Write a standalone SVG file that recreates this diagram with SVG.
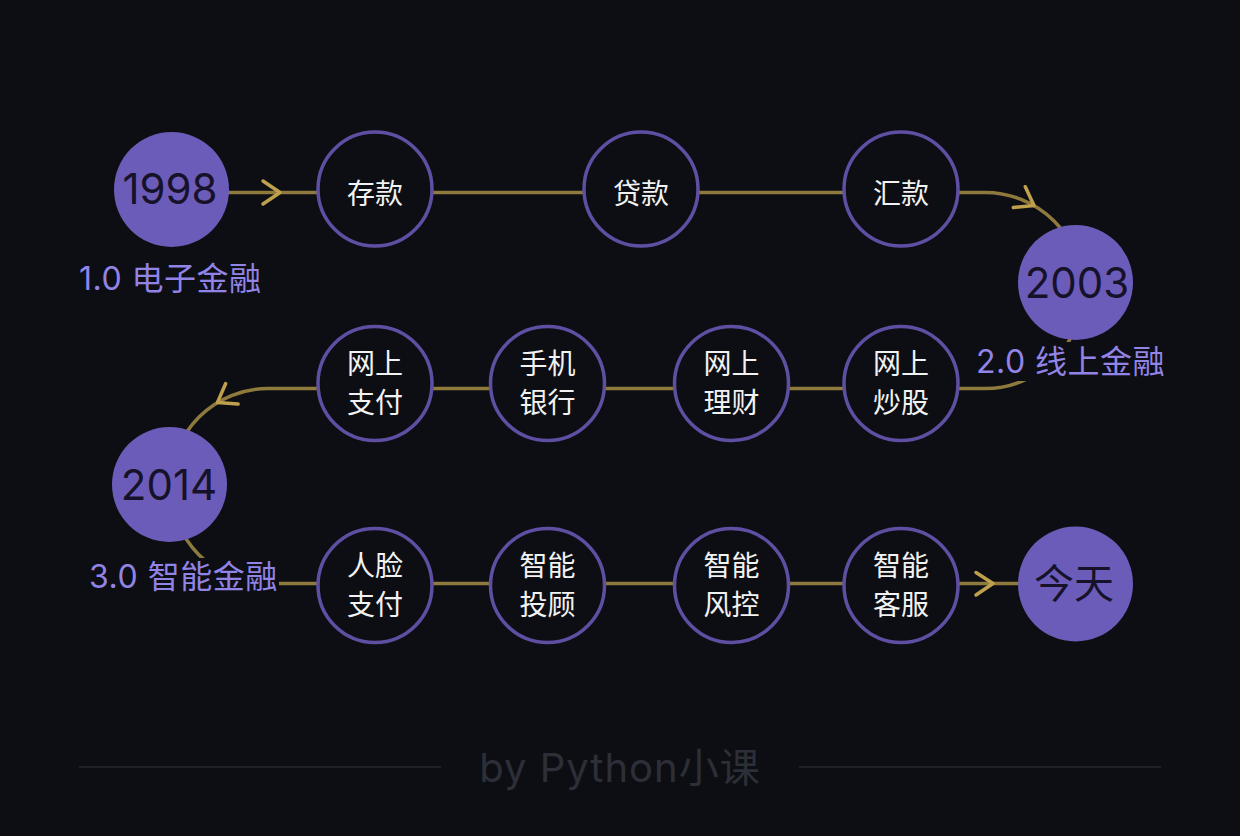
<svg xmlns="http://www.w3.org/2000/svg" width="1240" height="836" viewBox="0 0 1240 836">
<defs>
<style>
.bg{fill:#0c0e13}
.edge{fill:none;stroke:#8e7a3c;stroke-width:3.5}
.chev{fill:none;stroke:#bfa04c;stroke-width:3.5;stroke-linecap:round;stroke-linejoin:round}
.node circle{fill:#0c0e13;stroke:#5e4fa3;stroke-width:3.5}
.node text{fill:#f2f2f2;font-family:"Noto Sans CJK SC","Noto Sans",sans-serif;font-size:28px;text-anchor:middle;dominant-baseline:central}
.year circle{fill:#6c5cb9}
.year text{fill:#15122a;font-family:Inter,"Noto Sans CJK SC",sans-serif;font-size:42px;text-anchor:middle}
.label rect{fill:#0c0e13}
.label text{fill:#9283e6;font-family:Inter,"Noto Sans CJK SC",sans-serif;font-size:32px;letter-spacing:0.5px}
.foot line{stroke:#1e2128;stroke-width:2}
.foot text{fill:#2c2f37;font-family:Inter,"Noto Sans CJK SC",sans-serif;font-size:40px;letter-spacing:1px;text-anchor:middle}
</style>
</defs>
<rect class="bg" x="0" y="0" width="1240" height="836"/>
<g id="connectors">
<path class="edge" d="M171,192.5 H375"/>
<path class="edge" d="M375,192.5 H641"/>
<path class="edge" d="M641,192.5 H901"/>
<path class="edge" d="M901,192.5 H985 A98,98 0 0 1 1083,290.5"/>
<path class="edge" d="M1083,290.5 A98,98 0 0 1 985,388.5 H901"/>
<path class="edge" d="M901,388.5 H731"/>
<path class="edge" d="M731,388.5 H548"/>
<path class="edge" d="M548,388.5 H375"/>
<path class="edge" d="M375,388.5 H268 A97.5,97.5 0 0 0 170.5,486"/>
<path class="edge" d="M170.5,486 A97.5,97.5 0 0 0 268,583.5 H375"/>
<path class="edge" d="M375,583.5 H548"/>
<path class="edge" d="M548,583.5 H731"/>
<path class="edge" d="M731,583.5 H901"/>
<path class="edge" d="M901,583.5 H1075"/>
<polyline class="chev" points="263,181 280,192.5 263,204"/>
<polyline class="chev" points="1025.3,186.7 1034,205.6 1013.3,207.5"/>
<polyline class="chev" points="225.7,383.5 217.4,402.6 238.1,404.1"/>
<polyline class="chev" points="976,572.5 993,583.5 976,595"/>
</g>
<g id="n1998" class="year"><circle cx="171.5" cy="189.5" r="57.5"/><text x="170" y="203.5">1998</text></g>
<g id="n-cunkuan" class="node"><circle cx="375" cy="189" r="57"/><text x="375" y="192">存款</text></g>
<g id="n-daikuan" class="node"><circle cx="641" cy="189" r="57"/><text x="641" y="192">贷款</text></g>
<g id="n-huikuan" class="node"><circle cx="901" cy="189" r="57"/><text x="901" y="192">汇款</text></g>
<g id="n2003" class="year"><circle cx="1075.5" cy="282.5" r="57.5"/><text x="1077" y="298">2003</text></g>
<g id="n-chaogu" class="node"><circle cx="901" cy="383.5" r="57"/><text x="901" y="362">网上</text><text x="901" y="401">炒股</text></g>
<g id="n-licai" class="node"><circle cx="731.5" cy="383.5" r="57"/><text x="731.5" y="362">网上</text><text x="731.5" y="401">理财</text></g>
<g id="n-shouji" class="node"><circle cx="547.5" cy="383.5" r="57"/><text x="547.5" y="362">手机</text><text x="547.5" y="401">银行</text></g>
<g id="n-zhifu" class="node"><circle cx="375" cy="383.5" r="57"/><text x="375" y="362">网上</text><text x="375" y="401">支付</text></g>
<g id="n2014" class="year"><circle cx="169.5" cy="484.5" r="57.5"/><text x="169" y="500">2014</text></g>
<g id="n-renlian" class="node"><circle cx="375" cy="585.5" r="57"/><text x="375" y="564">人脸</text><text x="375" y="603">支付</text></g>
<g id="n-tougu" class="node"><circle cx="547.5" cy="585.5" r="57"/><text x="547.5" y="564">智能</text><text x="547.5" y="603">投顾</text></g>
<g id="n-fengkong" class="node"><circle cx="731.5" cy="585.5" r="57"/><text x="731.5" y="564">智能</text><text x="731.5" y="603">风控</text></g>
<g id="n-kefu" class="node"><circle cx="901" cy="585.5" r="57"/><text x="901" y="564">智能</text><text x="901" y="603">客服</text></g>
<g id="n-today" class="year"><circle cx="1075.5" cy="584" r="57.5"/><text x="1074" y="598" style="font-size:40px">今天</text></g>
<g id="label1" class="label"><text x="79" y="290">1.0 电子金融</text></g>
<g id="label2" class="label"><rect x="972" y="342" width="196" height="39"/><text x="976" y="373">2.0 线上金融</text></g>
<g id="label3" class="label"><rect x="84" y="558" width="195" height="40"/><text x="89" y="588">3.0 智能金融</text></g>
<g id="footer" class="foot">
<line x1="79" y1="767" x2="441" y2="767"/>
<line x1="799" y1="767" x2="1161" y2="767"/>
<text x="620" y="782">by Python小课</text>
</g>
</svg>
